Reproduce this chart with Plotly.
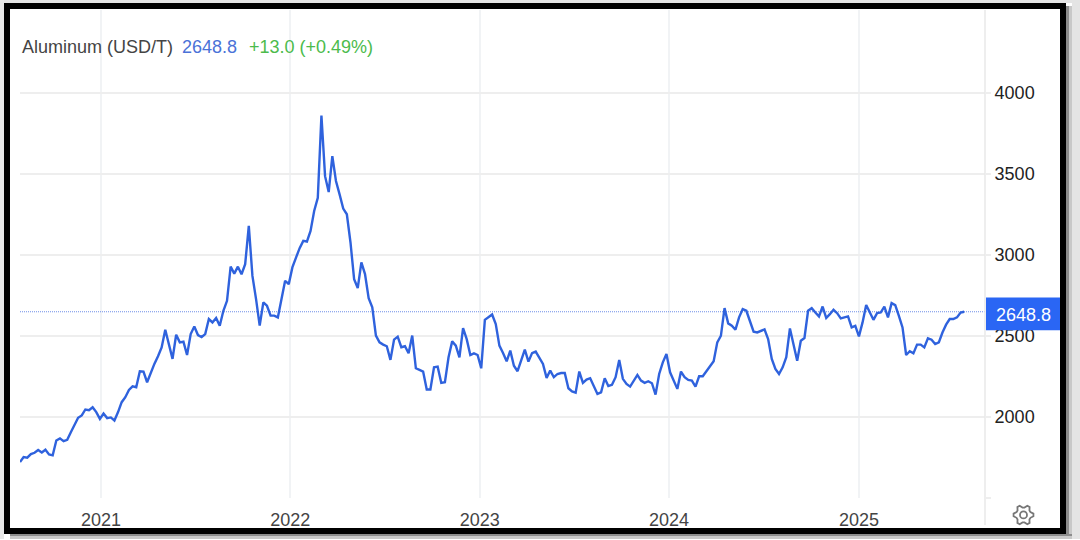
import math

import pandas as pd
import plotly.graph_objects as go

# weekly prices
prices = [
    1722, 1753, 1749, 1771, 1779, 1796, 1781, 1798, 1769, 1763, 1855, 1868, 1851, 1859, 1906, 1947,
    1995, 2009, 2046, 2042, 2060, 2030, 1988, 2021, 1993, 1997, 1978, 2030, 2091, 2122, 2167, 2189,
    2183, 2282, 2280, 2214, 2276, 2327, 2374, 2429, 2538, 2450, 2358, 2507, 2460, 2464, 2382, 2511,
    2558, 2505, 2493, 2511, 2604, 2583, 2610, 2562, 2655, 2716, 2927, 2884, 2927, 2880, 2942, 3178,
    2870, 2727, 2563, 2706, 2686, 2625, 2625, 2614, 2727, 2840, 2819, 2922, 2983, 3041, 3086, 3082,
    3147, 3270, 3352, 3859, 3485, 3387, 3609, 3455, 3373, 3285, 3250, 3076, 2850, 2795, 2953, 2881,
    2733, 2676, 2502, 2460, 2446, 2436, 2352, 2477, 2495, 2430, 2436, 2393, 2502, 2300, 2290, 2280,
    2169, 2169, 2306, 2310, 2210, 2214, 2368, 2466, 2440, 2368, 2548, 2480, 2382, 2392, 2382, 2300,
    2599, 2614, 2632, 2573, 2440, 2394, 2343, 2409, 2316, 2282, 2347, 2415, 2341, 2394, 2403, 2364,
    2327, 2241, 2286, 2245, 2265, 2271, 2271, 2177, 2157, 2150, 2280, 2210, 2230, 2239, 2189, 2142,
    2152, 2239, 2191, 2198, 2245, 2351, 2235, 2204, 2187, 2224, 2259, 2224, 2210, 2220, 2208, 2138,
    2265, 2337, 2388, 2275, 2224, 2173, 2280, 2245, 2228, 2224, 2187, 2251, 2251, 2280, 2316, 2343,
    2460, 2501, 2671, 2577, 2563, 2538, 2614, 2665, 2655, 2583, 2526, 2521, 2532, 2540, 2480, 2358,
    2296, 2265, 2306, 2368, 2546, 2450, 2347, 2470, 2487, 2655, 2671, 2644, 2620, 2681, 2610, 2634,
    2661, 2640, 2608, 2614, 2620, 2552, 2562, 2497, 2583, 2690, 2644, 2599, 2640, 2644, 2681, 2614,
    2702, 2690, 2624, 2552, 2382, 2405, 2392, 2446, 2446, 2429, 2485, 2476, 2450, 2460, 2521, 2569,
    2604, 2604, 2614, 2644, 2648.8,
]
weeks = pd.date_range("2020-07-29", periods=len(prices), freq="7D")
last_price = 2648.8

y_ticks = [1500, 2000, 2500, 3000, 3500, 4000]
y_labels = ["", "2000", "2500", "3000", "3500", "4000"]
x_ticks = ["2021-01-01", "2022-01-01", "2023-01-01", "2024-01-01", "2025-01-01"]
x_labels = ["2021", "2022", "2023", "2024", "2025"]

Y_STRETCH = 1.004  # the photographed page comes out slightly squashed


# page pixels to paper fractions
def px(x):
    return (x - 20) / 965


def py(y):
    return (501 - y * Y_STRETCH) / 491


def box(x0, y0, x1, y1, color):
    return dict(type="rect", xref="paper", yref="paper", x0=px(x0), y0=py(y0), x1=px(x1), y1=py(y1),
                fillcolor=color, line=dict(width=0))


def label(x, y, text, color, size=18, anchor="left"):
    return dict(xref="paper", yref="paper", x=px(x), y=py(y), text=text, showarrow=False, xanchor=anchor,
                yanchor="middle", font=dict(family="Liberation Sans", size=size, color=color))


def gear_path(cx, cy, outer, inner, teeth=6):
    pts = []
    for i in range(teeth * 4):
        r = outer if i % 4 in (0, 1) else inner
        a = (i - 0.5) * 2 * math.pi / (teeth * 4)
        pts.append((px(cx + r * math.cos(a)), py(cy + r * math.sin(a))))
    return "M" + " L".join(f"{x},{y}" for x, y in pts) + " Z"


fig = go.Figure()
fig.add_trace(go.Scatter(x=[weeks[0], "2025-09-01"], y=[last_price, last_price], mode="lines",
                         line=dict(color="#6f8fe8", width=1.2, dash="1px,1px"), showlegend=False, hoverinfo="skip"))
fig.add_trace(go.Scatter(x=weeks, y=prices, mode="lines", line=dict(color="#2f62dd", width=2.4), showlegend=False))

shapes = [
    # right hand divider of the price scale
    dict(type="line", xref="paper", yref="paper", x0=px(985), x1=px(985), y0=py(10), y1=py(526),
         line=dict(color="#e9e9e9", width=1.5)),
    # last price tag
    box(986, 298, 1060, 331, "#2a66f4"),
    # gear icon
    dict(type="path", xref="paper", yref="paper", path=gear_path(1023.5, 516, 10, 7.5),
         line=dict(color="#777777", width=1.8)),
    dict(type="circle", xref="paper", yref="paper", x0=px(1020), x1=px(1027), y0=py(512.5), y1=py(519.5),
         line=dict(color="#777777", width=1.8)),
    # screenshot shadow and black frame
    box(0, 0, 1080, 3, "#e4e4e4"),
    box(0, 0, 4, 540, "#e8e8e8"),
    box(1072, 0, 1080, 540, "#e4e4e4"),
    box(1069, 6, 1072, 540, "#c8c8c8"),
    box(1066, 6, 1069, 537, "#8c8c8c"),
    box(10, 535, 1072, 537, "#8c8c8c"),
    box(10, 537, 1072, 540, "#c8c8c8"),
    dict(type="rect", xref="paper", yref="paper", x0=px(7), x1=px(1063), y0=py(6), y1=py(532),
         line=dict(color="black", width=6)),
]

annotations = [
    label(20, 47, "Aluminum (USD/T)", "#444444"),
    label(180, 47, "2648.8", "#4a72d8"),
    label(247, 47, "+13.0 (+0.49%)", "#4cbb4c"),
    label(1023, 316, "2648.8", "white", anchor="center"),
]

fig.update_xaxes(range=["2020-07-29", "2025-09-01"], tickvals=x_ticks, ticktext=x_labels, showgrid=True,
                 gridcolor="#f1f3f5", gridwidth=1.5, zeroline=False, ticks="outside", ticklen=5, tickcolor="white",
                 showline=False, tickfont=dict(family="Liberation Sans", size=18, color="#444444"))
fig.update_yaxes(range=[1500, 4510], side="right", tickvals=y_ticks, ticktext=y_labels, showgrid=True,
                 gridcolor="#eeeeee", gridwidth=1.5, zeroline=False, ticks="outside", ticklen=5, tickcolor="#eeeeee",
                 tickwidth=1.5, showline=False, tickfont=dict(family="Liberation Sans", size=18, color="#222222"))
fig.update_layout(width=1080, height=540, margin={"l": 20, "r": 95, "t": 10, "b": 39}, plot_bgcolor="white",
                  paper_bgcolor="white", shapes=shapes, annotations=annotations)

# pin the chart to the window corner, the page's default body margin would push it 8px off
pin_chart = """
var gd = document.querySelector('.plotly-graph-div');
gd.style.position = 'fixed';
gd.style.left = '0';
gd.style.top = '0';
"""
fig.write_html("out.html", config={"displayModeBar": False}, post_script=pin_chart)
